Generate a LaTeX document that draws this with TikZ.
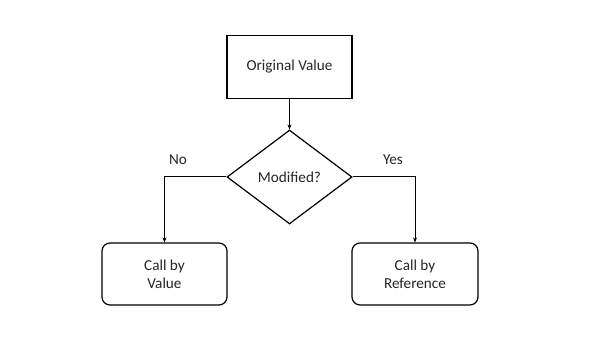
\documentclass[tikz,border=0pt]{standalone}
\usepackage{fontspec}
\setmainfont{Carlito}
\usetikzlibrary{shapes.geometric,arrows.meta}
\begin{document}
\begin{tikzpicture}[x=1pt,y=-1pt,
  every node/.style={font=\fontsize{15.2}{18}\selectfont, text=black!85},
  box/.style={draw=black, line width=1.2pt, minimum width=125pt, minimum height=63pt, inner sep=0pt, align=center},
  rbox/.style={box, rounded corners=8pt},
  dia/.style={draw=black, line width=1.2pt, diamond, minimum width=125pt, minimum height=94pt, inner sep=0pt, aspect=1.33},
  conn/.style={draw=black, line width=1pt, -{Stealth[length=5pt,width=4pt]}},
  lbl/.style={font=\fontsize{15.2}{18}\selectfont}]
\path[use as bounding box, fill=white] (0,0) rectangle (600,339);
\node[box] (orig) at (289.5,67) {Original Value};
\node[draw=black, line width=1.2pt, shape=diamond, minimum width=125pt, minimum height=94pt, inner sep=0pt] (mod) at (289.5,177) {Modified?};
\node[rbox, minimum width=125pt, minimum height=62pt] (val) at (164.5,274) {Call by\\Value};
\node[rbox, minimum width=126pt, minimum height=62pt] (ref) at (415,274) {Call by\\Reference};
\draw[conn] (orig.south) -- (mod.north);
\draw[conn] (mod.west) -| (val.north);
\draw[conn] (mod.east) -| (ref.north);
\node[lbl] (no) at (178,160) {No};
\node[lbl] (yes) at (393,160) {Yes};
\end{tikzpicture}
\end{document}
